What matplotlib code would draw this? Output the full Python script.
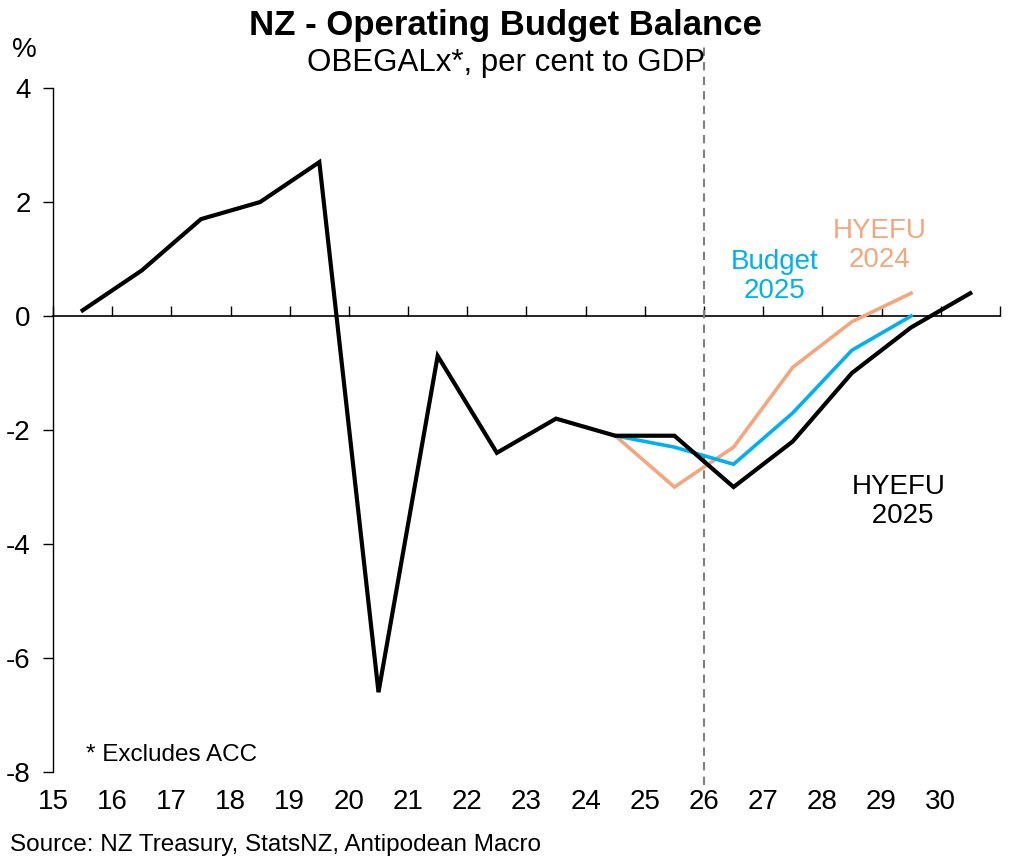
import numpy as np
import matplotlib; matplotlib.use("Agg"); import matplotlib.pyplot as plt
plt.rcParams.update({"font.family": ["Liberation Sans", "DejaVu Sans"], "font.size": 20})

# fiscal years (plotted at the middle of each year slot)
YEARS      = np.arange(15, 31) + 0.5
HYEFU_2025 = [0.1, 0.8, 1.7, 2.0, 2.7, -6.6, -0.7, -2.4, -1.8, -2.1, -2.1, -3.0, -2.2, -1.0, -0.2, 0.4]
FC_YEARS   = np.arange(24, 30) + 0.5
BUDGET_2025 = [-2.1, -2.3, -2.6, -1.7, -0.6, 0.0]
HYEFU_2024  = [-2.1, -3.0, -2.3, -0.9, -0.1, 0.4]
XTICKS = list(range(15, 31))

BLUE, ORANGE = "#00B0F0", "#F2A77F"

fig = plt.figure(figsize=(10.12, 8.63), dpi=100)
ax = fig.add_axes([0.0524, 0.1054, 0.9356, 0.7926])

ax.plot(FC_YEARS, HYEFU_2024, color=ORANGE, lw=2.6, zorder=3, solid_joinstyle="miter")
ax.plot(FC_YEARS, BUDGET_2025, color=BLUE, lw=2.6, zorder=4, solid_joinstyle="miter")
ax.plot(YEARS, HYEFU_2025, color="black", lw=3.0, zorder=5, solid_joinstyle="miter")

# forecast divider, runs a little past the plot area
ax.axvline(26, ymin=-0.019, ymax=1.06, color="#808080", lw=1.5, ls=(0, (4, 3)), clip_on=False, zorder=2)

ax.set_xlim(15, 31); ax.set_ylim(-8, 4)
ax.set_yticks(range(-8, 5, 2))
ax.set_yticklabels([str(v) for v in range(-8, 5, 2)])
ax.tick_params(axis="y", length=7, width=1, pad=9, labelsize=20)
ax.set_xticks(XTICKS)
ax.tick_params(axis="x", length=0, pad=12, labelsize=20)
for s in ["top", "right", "bottom"]:
    ax.spines[s].set_visible(False)
ax.spines["left"].set_linewidth(1)

# zero line carries the category ticks
zero = ax.secondary_xaxis(8 / 12)
zero.set_xticks(XTICKS + [31])
zero.tick_params(axis="x", direction="out", length=7, width=1, labelbottom=False, labeltop=False)
zero.spines["bottom"].set_linewidth(1.2)
zero.spines["top"].set_linewidth(1.2)

ax.text(27.2, 0.70, "Budget\n2025", color=BLUE, ha="center", va="center", fontsize=20, linespacing=1.15)
ax.text(28.97, 1.23, "HYEFU\n2024", color=ORANGE, ha="center", va="center", fontsize=20, linespacing=1.15)
ax.text(29.29, -3.25, "HYEFU\n 2025", color="black", ha="center", va="center", fontsize=20, linespacing=1.15)
ax.text(15.55, -7.7, "* Excludes ACC", ha="left", va="center", fontsize=17.5)

fig.text(0.5, 0.971, "NZ - Operating Budget Balance", ha="center", va="center", fontsize=25, fontweight="bold")
fig.text(0.5, 0.927, "OBEGALx*, per cent to GDP", ha="center", va="center", fontsize=22.5)
fig.text(0.012, 0.942, "%", ha="left", va="center", fontsize=20)
fig.text(0.01, 0.021, "Source: NZ Treasury, StatsNZ, Antipodean Macro", ha="left", va="center", fontsize=17.5)

fig.savefig("out.png", dpi=100)
